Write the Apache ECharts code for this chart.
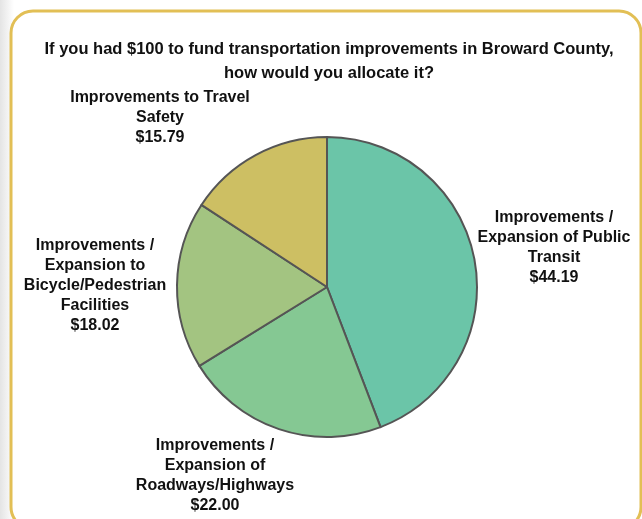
<!DOCTYPE html>
<html>
<head>
<meta charset="utf-8">
<script src="https://cdn.jsdelivr.net/npm/echarts@6/dist/echarts.min.js"></script>
<style>
  html, body { margin: 0; padding: 0; background: #fff; }
  #chart { width: 642px; height: 519px; }
</style>
</head>
<body>
<div id="chart"></div>
<script>
// Survey allocation of a hypothetical $100 budget
const categories = [
  'Improvements /\nExpansion of Public\nTransit',
  'Improvements /\nExpansion of\nRoadways/Highways',
  'Improvements /\nExpansion to\nBicycle/Pedestrian\nFacilities',
  'Improvements to Travel\nSafety'
];
const values = [44.19, 22.00, 18.02, 15.79];
const colors = ['#6BC5A8', '#85C893', '#A3C481', '#CDBF63'];

// Label anchor points (centre of each text block)
const labelSpots = [
  { x: 554, y: 248 },
  { x: 215, y: 476 },
  { x: 95, y: 286 },
  { x: 160, y: 118 }
];

const chart = echarts.init(document.getElementById('chart'), null, { renderer: 'canvas' });

const font = '"Liberation Sans", Arial, sans-serif';

chart.setOption({
  backgroundColor: '#ffffff',
  animation: false,
  title: {
    text: 'If you had $100 to fund transportation improvements in Broward County,\nhow would you allocate it?',
    left: 324,
    top: 32,
    textAlign: 'center',
    textStyle: {
      fontFamily: font,
      fontWeight: 'bold',
      fontSize: 16.5,
      lineHeight: 24,
      color: '#111'
    }
  },
  graphic: [
    {
      type: 'rect',
      shape: { x: 0, y: 0, width: 14, height: 519 },
      style: {
        fill: new echarts.graphic.LinearGradient(0, 0, 1, 0, [
          { offset: 0, color: '#e4e4e4' },
          { offset: 1, color: '#ffffff' }
        ])
      },
      z: -1
    },
    {
      type: 'rect',
      shape: { x: 11, y: 11, width: 630, height: 518, r: 22 },
      style: { fill: '#ffffff', stroke: '#E2BF55', lineWidth: 3 },
      z: 0
    }
  ],
  series: [{
    type: 'pie',
    center: [327, 287],
    radius: [0, 150],
    startAngle: 90,
    clockwise: true,
    z: 5,
    itemStyle: { borderColor: '#555555', borderWidth: 2 },
    label: {
      show: true,
      position: 'outside',
      alignTo: 'none',
      overflow: 'none',
      formatter: p => p.name + '\n$' + p.value.toFixed(2),
      fontFamily: font,
      fontWeight: 'bold',
      fontSize: 16,
      lineHeight: 20,
      color: '#111',
      align: 'center'
    },
    labelLine: { show: false },
    labelLayout: params => ({
      x: labelSpots[params.dataIndex].x,
      y: labelSpots[params.dataIndex].y,
      align: 'center',
      verticalAlign: 'middle'
    }),
    emphasis: { disabled: true },
    data: categories.map((c, i) => ({
      name: c,
      value: values[i],
      itemStyle: { color: colors[i] }
    }))
  }]
});
</script>
</body>
</html>
